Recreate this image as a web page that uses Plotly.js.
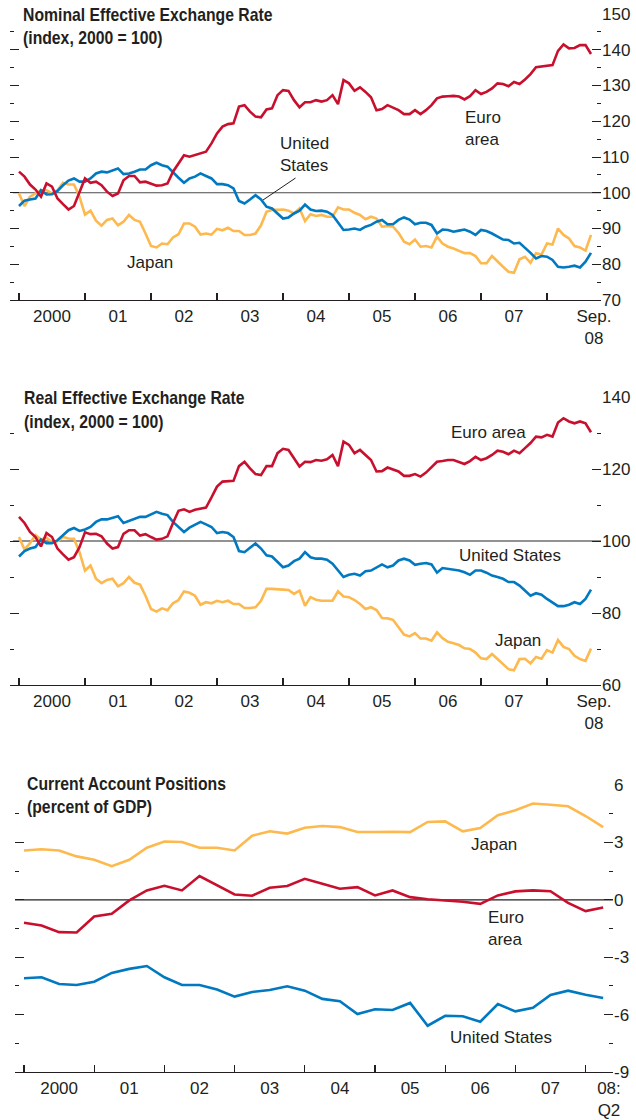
<!DOCTYPE html>
<html>
<head>
<meta charset="utf-8">
<script src="https://cdn.plot.ly/plotly-3.0.1.min.js"></script>
<style>html,body{margin:0;padding:0;background:#fff;}#chart{width:636px;height:1120px;}</style>
</head>
<body>
<div id="chart"></div>
<script>
// ---------- DATA ----------
// Monthly, Jan 2000 .. Sep 2008
const nomEuro = [105.9,104.5,102.3,100.9,98.9,102.6,101.7,98.4,96.8,95.3,
  96.3,100.3,104.0,102.8,103.1,102.1,100.3,99.1,99.8,103.5,
  104.7,104.7,102.9,103.1,102.6,102.0,102.1,102.6,105.9,108.2,
  110.5,110.1,110.5,111.0,111.5,113.8,116.6,118.5,119.2,119.4,
  124.1,124.5,122.7,121.3,121.1,123.3,123.6,127.3,128.7,128.5,
  125.9,123.9,125.3,125.3,125.9,125.5,125.9,127.3,124.8,131.5,
  130.6,128.5,129.5,128.2,126.7,123.1,123.4,124.5,123.9,123.1,
  122.0,122.0,123.1,122.0,123.1,124.5,126.4,126.9,127.0,127.1,
  126.9,126.1,127.0,128.7,127.6,128.2,129.2,130.6,130.4,129.8,
  131.0,130.4,131.7,133.2,135.1,135.3,135.7,135.7,139.7,141.5,
  140.4,140.5,141.3,141.3,138.8];
const nomUS = [96.3,97.8,98.1,98.4,100.7,99.5,99.6,100.5,102.1,103.4,
  104.0,103.1,103.1,104.0,105.4,105.9,105.7,106.3,106.8,105.2,
  105.4,105.9,106.5,106.5,107.7,108.4,107.7,107.3,105.6,104.2,
  102.8,104.0,104.5,105.4,104.7,104.0,102.4,102.4,102.1,101.2,
  97.7,97.0,98.1,99.3,98.1,96.1,95.6,94.2,92.8,93.1,
  94.2,95.0,96.7,95.3,94.9,95.0,94.7,93.8,91.6,89.6,
  89.7,90.0,89.6,90.5,91.0,91.9,92.4,91.2,91.2,92.4,
  93.1,92.5,91.2,91.6,91.6,91.0,88.6,89.7,89.6,89.1,
  89.4,89.7,89.1,88.2,89.6,89.3,88.6,87.7,86.9,86.8,
  85.8,86.0,84.7,83.2,81.6,82.3,82.1,81.2,79.3,79.1,
  79.3,79.6,79.1,80.7,83.2];
const nomJapan = [99.8,96.3,98.9,99.8,100.7,100.7,99.8,100.7,102.8,102.3,
  102.3,98.9,93.9,95.0,92.2,90.8,92.4,92.8,90.9,91.9,
  93.8,92.4,91.9,88.6,85.1,84.7,85.8,85.6,87.5,88.4,
  91.4,91.4,90.5,88.3,88.6,88.3,89.9,89.5,90.2,89.3,
  89.3,88.2,88.2,88.6,90.9,94.7,95.2,95.2,95.3,95.0,
  94.2,95.6,92.1,94.0,93.5,93.8,93.3,93.3,95.9,95.3,
  95.3,94.4,93.8,92.6,93.3,92.8,90.5,90.7,90.5,88.8,
  86.3,85.6,86.9,84.9,85.1,84.7,87.7,85.8,84.9,84.4,
  83.8,83.1,83.1,82.3,80.3,80.3,82.3,80.7,79.3,77.9,
  77.6,81.4,82.1,80.4,83.1,82.7,85.8,85.5,90.0,88.2,
  87.2,85.1,84.7,83.8,88.2];

const realEuro = [106.7,105.0,102.5,101.1,98.5,102.2,101.1,97.9,96.3,94.8,
  95.5,98.3,102.4,101.9,102.0,101.3,99.3,97.9,98.3,102.0,
  103.0,103.0,101.5,101.9,101.1,100.4,100.6,101.3,105.0,108.4,
  108.8,108.1,108.7,109.0,109.3,112.1,115.1,116.5,116.7,116.7,
  120.8,122.0,120.2,118.6,118.3,120.8,120.8,124.4,125.6,125.3,
  123.0,120.7,122.0,121.9,122.5,122.3,122.7,123.9,120.8,127.6,
  126.7,124.4,125.3,123.9,122.5,119.3,119.4,120.4,119.9,119.3,
  118.1,118.1,118.6,117.9,119.0,120.5,122.0,122.2,122.5,122.5,
  122.0,121.4,122.2,123.4,122.5,123.0,123.9,125.1,124.8,124.1,
  125.1,124.4,125.8,127.2,129.0,128.8,129.5,129.0,132.9,134.1,
  133.2,132.7,133.2,132.7,130.2];
const realUS = [95.7,97.2,97.9,98.3,100.4,99.4,99.4,100.2,101.6,103.0,
  103.6,102.8,103.2,103.9,105.3,106.0,106.0,106.5,106.9,105.0,
  105.5,106.0,106.7,106.7,107.4,108.1,107.6,107.2,105.3,103.9,
  102.5,103.7,104.4,105.3,104.6,103.9,102.2,102.5,102.2,101.1,
  97.2,96.9,98.1,99.3,97.9,96.0,95.7,94.1,92.7,93.2,
  94.4,95.1,96.9,95.5,95.1,95.1,94.8,93.7,91.8,90.0,
  90.6,90.9,90.4,91.6,91.8,92.7,93.5,92.7,93.2,94.6,
  95.1,94.6,93.4,93.7,93.9,93.5,91.2,92.5,92.3,92.0,
  91.8,91.3,90.6,91.8,91.8,91.2,90.4,90.0,89.5,88.6,
  88.6,87.6,86.2,84.8,85.5,85.1,83.9,83.0,81.9,81.9,
  82.3,83.0,82.5,83.9,86.5];
const realJapan = [101.1,97.6,99.4,101.6,100.4,100.9,99.7,99.9,101.1,100.7,
  100.6,96.9,91.8,93.2,89.5,88.3,89.2,89.5,87.4,88.3,
  90.0,88.4,87.9,84.8,81.1,80.4,81.3,80.8,82.7,83.6,
  86.0,85.6,84.8,82.3,83.0,82.7,83.4,83.0,83.4,82.5,
  82.5,81.4,81.4,81.6,83.4,86.7,86.7,86.5,86.5,86.4,
  85.3,86.2,82.0,84.4,83.7,83.4,83.3,83.4,86.0,84.6,
  84.4,83.6,82.5,81.1,81.6,80.8,78.6,78.5,78.1,76.0,
  74.0,73.5,74.4,72.9,72.9,72.3,74.6,73.0,72.0,71.6,
  71.1,70.2,70.0,69.0,67.4,67.2,68.6,67.2,65.8,64.4,
  64.1,67.2,67.3,66.0,67.8,67.3,69.7,69.0,72.5,70.6,
  70.0,68.1,67.2,66.7,70.1];

// Quarterly, 2000:Q1 .. 2008:Q2
const caJapan = [2.58,2.64,2.58,2.27,2.09,1.76,2.09,2.72,3.05,3.02,
  2.72,2.72,2.58,3.35,3.58,3.46,3.77,3.86,3.80,3.54,
  3.54,3.56,3.54,4.07,4.10,3.58,3.75,4.42,4.68,5.03,
  4.97,4.89,4.38,3.80];
const caEuro = [-1.20,-1.34,-1.69,-1.71,-0.87,-0.73,-0.03,0.49,0.73,0.49,
  1.24,0.75,0.28,0.21,0.63,0.72,1.10,0.84,0.58,0.66,
  0.23,0.49,0.14,0.03,-0.03,-0.10,-0.21,0.23,0.44,0.49,
  0.45,-0.16,-0.59,-0.40];
const caUS = [-4.10,-4.05,-4.40,-4.45,-4.28,-3.82,-3.61,-3.46,-4.05,-4.45,
  -4.45,-4.69,-5.06,-4.82,-4.71,-4.52,-4.75,-5.18,-5.30,-5.97,
  -5.72,-5.76,-5.39,-6.58,-6.06,-6.09,-6.37,-5.45,-5.83,-5.65,
  -4.97,-4.75,-4.96,-5.13];

// Tick labels
const yearLabels = ['2000','01','02','03','04','05','06','07'];
const lastLabelMonthly = 'Sep.<br>08';
const lastLabelQuarterly = '08:<br>Q2';
const nomTicks = [70,80,90,100,110,120,130,140,150];
const realTicks = [60,80,100,120,140];
const caTicks = [-9,-6,-3,0,3,6];
const caTickText = ['-9','-6','-3','0','3','6'];

// Titles
const titles = [
  ['Nominal Effective Exchange Rate','(index, 2000 = 100)'],
  ['Real Effective Exchange Rate','(index, 2000 = 100)'],
  ['Current Account Positions','(percent of GDP)']
];

// ---------- BUILD ----------
const W = 636, H = 1120;
const FONT = '"Liberation Sans", Arial, sans-serif';
const INK = '#231F20';
const RED = '#C8102E', BLUE = '#0079C1', YEL = '#FDB94E';

const monthsX = nomEuro.map((_, i) => 2000 + i / 12);
const quartersX = caUS.map((_, i) => 2000 + i / 4);
const yearStarts = []; for (let y = 2000; y <= 2008; y++) yearStarts.push(y);
const midYears = yearLabels.map((_, i) => 2000.5 + i);

const px = v => v / W;
const py = v => 1 - v / H;

function line(x, y, color, ax) {
  return {x, y, type: 'scatter', mode: 'lines', xaxis: 'x' + ax, yaxis: 'y' + ax,
    line: {color, width: 2.6}, hoverinfo: 'skip'};
}

const data = [
  line(monthsX, nomJapan, YEL, ''), line(monthsX, nomUS, BLUE, ''), line(monthsX, nomEuro, RED, ''),
  line(monthsX, realJapan, YEL, '2'), line(monthsX, realUS, BLUE, '2'), line(monthsX, realEuro, RED, '2'),
  line(quartersX, caJapan, YEL, '3'), line(quartersX, caUS, BLUE, '3'), line(quartersX, caEuro, RED, '3')
];

const tickFont = {family: FONT, size: 17, color: INK};

function xAxis(domain, range, anchor, lastVal, lastText) {
  return {
    domain, range, anchor, type: 'linear',
    tickmode: 'array', tickvals: midYears.concat([lastVal]), ticktext: yearLabels.concat([lastText]),
    ticks: '', showline: true, linecolor: INK, linewidth: 1.2,
    showgrid: false, zeroline: false, tickfont: tickFont,
    minor: {tickmode: 'array', tickvals: yearStarts, ticks: 'inside', ticklen: 7, tickwidth: 1.2, tickcolor: INK, showgrid: false}
  };
}
function yAxis(domain, range, anchor, tickvals, ticktext, minorVals) {
  return {
    domain, range, anchor, side: 'right',
    tickmode: 'array', tickvals, ticktext,
    ticks: 'inside', ticklen: 9, tickwidth: 1, tickcolor: INK, mirror: 'ticks',
    showline: false, showgrid: false, zeroline: false, tickfont: tickFont,
    minor: {tickmode: 'array', tickvals: minorVals, ticks: 'inside', ticklen: 4, tickwidth: 1, tickcolor: INK, showgrid: false}
  };
}

const nomMinor = [75,85,95,105,115,125,135,145];
const realMinor = [70,90,110,130];
const caMinor = [-7.5,-4.5,-1.5,1.5,4.5];

const layout = {
  width: W, height: H, margin: {l: 0, r: 0, t: 0, b: 0},
  paper_bgcolor: '#fff', plot_bgcolor: 'rgba(0,0,0,0)', showlegend: false,
  font: {family: FONT, color: INK, size: 17},
  xaxis: xAxis([px(10), px(601)], [1999.8636, 2008.8182], 'y', 2008.712, lastLabelMonthly),
  yaxis: yAxis([py(300), py(14)], [70, 150], 'x', nomTicks, nomTicks.map(String), nomMinor),
  xaxis2: xAxis([px(10), px(601)], [1999.8636, 2008.8182], 'y2', 2008.712, lastLabelMonthly),
  yaxis2: yAxis([py(685), py(397)], [60, 140], 'x2', realTicks, realTicks.map(String), realMinor),
  xaxis3: xAxis([px(15), px(613)], [1999.8718, 2008.3903], 'y3', 2008.333, lastLabelQuarterly),
  yaxis3: yAxis([py(1072), py(785)], [-9, 6], 'x3', caTicks, caTickText, caMinor),
  shapes: [
    {type: 'line', xref: 'x domain', x0: 0.005, x1: 1, yref: 'y', y0: 100, y1: 100, layer: 'below', line: {color: '#4a4a4a', width: 1.2}},
    {type: 'line', xref: 'x2 domain', x0: 0.005, x1: 1, yref: 'y2', y0: 100, y1: 100, layer: 'below', line: {color: '#6e6e6e', width: 1.6}},
    {type: 'line', xref: 'x3 domain', x0: 0, x1: 1, yref: 'y3', y0: 0, y1: 0, layer: 'below', line: {color: INK, width: 1.2}}
  ],
  annotations: []
};

// Panel titles
const titleTexts = [];
const titlePos = [[21, 15, 38], [22, 398, 422], [25, 784, 807]];
titles.forEach((t, k) => {
  const [x, y1, y2] = titlePos[k];
  [t[0], t[1]].forEach((txt, j) => {
    titleTexts.push(txt);
    layout.annotations.push({xref: 'paper', yref: 'paper', x: px(x), y: py(j ? y2 : y1),
      xanchor: 'left', yanchor: 'middle', showarrow: false, text: '<b>' + txt + '</b>',
      font: {family: FONT, size: 18, color: INK}});
  });
});

// Series labels
function lab(ax, x, y, text, xanchor) {
  layout.annotations.push({xref: 'x' + ax, yref: 'y' + ax, x, y, text, showarrow: false,
    xanchor: xanchor || 'center', yanchor: 'middle', align: xanchor === 'left' ? 'left' : 'center',
    font: {family: FONT, size: 17, color: INK}});
}
lab('', 2003.924, 110.6, 'United<br>States', 'left');
lab('', 2001.985, 80.35, 'Japan');
lab('', 2006.727, 118.1, 'Euro<br>area', 'left');
lab('2', 2007.121, 130.0, 'Euro area');
lab('2', 2007.44, 96.1, 'United States');
lab('2', 2007.56, 72.5, 'Japan');
lab('3', 2006.695, 2.87, 'Japan');
lab('3', 2006.58, -1.52, 'Euro<br>area', 'left');
lab('3', 2006.795, -7.22, 'United States');

// leader line for United States (top panel)
layout.annotations.push({xref: 'x', yref: 'y', x: 2003.697, y: 97.97, text: '', showarrow: true,
  arrowhead: 0, arrowwidth: 1, arrowcolor: INK, ax: 34, ay: -23, standoff: 0, startstandoff: 0});

Plotly.newPlot('chart', data, layout, {staticPlot: true, displayModeBar: false}).then(gd => {
  // condense the bold panel titles horizontally (source uses a condensed face)
  gd.querySelectorAll('.annotation-text').forEach(el => {
    if (titleTexts.includes(el.textContent)) {
      el.style.transformBox = 'fill-box';
      el.style.transformOrigin = '0 50%';
      el.style.transform = 'scaleX(0.875)';
    }
  });
});
</script>
</body>
</html>
